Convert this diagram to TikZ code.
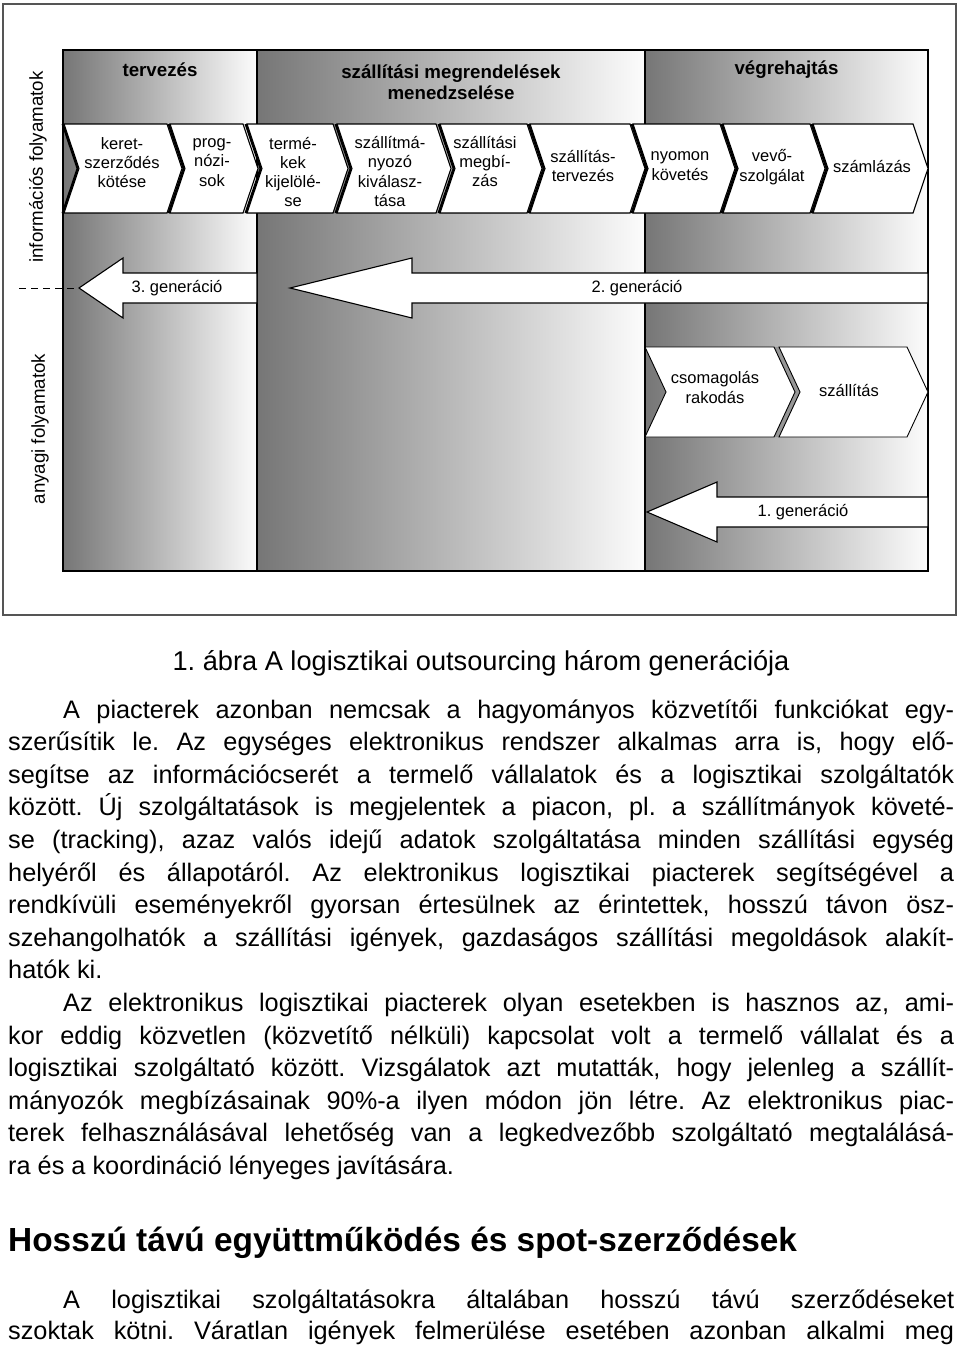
\documentclass[tikz,border=0pt]{standalone}
\usepackage{fontspec}
\setmainfont{Liberation Sans}
\usepackage{tikz}
\usetikzlibrary{calc}
\definecolor{deepgray}{RGB}{118,118,118}
\definecolor{paleend}{RGB}{252,252,252}
\definecolor{framegray}{RGB}{85,85,85}
\definecolor{gapgray}{RGB}{150,150,150}
\newcommand{\justline}[1]{\hbox to 946pt{#1}}
\frenchspacing

\begin{document}
\begin{tikzpicture}[x=1pt, y=-1pt,
  colbox/.style={draw=black, line width=1.2pt, left color=deepgray, right color=paleend},
  chev/.style={draw=black, line width=1.1pt, fill=white, line join=miter},
  chevshadow/.style={fill=black},
  genarrow/.style={draw=black, line width=1.1pt, fill=white, line join=miter},
  steplabel/.style={font=\fontsize{16.5}{19.3}\selectfont, align=center, inner sep=0pt},
  headlabel/.style={font=\fontsize{18.7}{21}\selectfont\bfseries, align=center, inner sep=0pt},
  genlabel/.style={font=\fontsize{16.5}{19}\selectfont, inner sep=0pt},
  sidelabel/.style={font=\fontsize{18.7}{21}\selectfont, rotate=90, inner sep=0pt},
  bodyline/.style={anchor=base west, inner sep=0pt, font=\fontsize{25.3}{32.6}\selectfont},
]
  \fill[white] (0,0) rectangle (960,1347);
  \useasboundingbox (0,0) rectangle (960,1347);

  \draw[framegray, line width=1.2pt] (3,4) rectangle (956,615);

  \path[colbox] (63,50) rectangle (257,571);
  \path[colbox] (257,50) rectangle (645,571);
  \path[colbox] (645,50) rectangle (928,571);

  \node[headlabel] (headplan) at (160,70) {tervezés};
  \node[headlabel] (headorder) at (451,82.5) {szállítási megrendelések\\menedzselése};
  \node[headlabel] (headexec) at (786.5,70) {végrehajtás};

  \foreach \l/\r in {64/167, 170/243, 247/333, 337/436, 440/527, 530/630, 633/720, 723/810, 813/913} {
    \fill[chevshadow] (\l-2.5,124) -- (\r-2.5,124) -- (\r+12.5,168.5) -- (\r-2.5,213) -- (\l-2.5,213) -- (\l+12.5,168.5) -- cycle;
    \draw[chev] (\l,124) -- (\r,124) -- (\r+15,168.5) -- (\r,213) -- (\l,213) -- (\l+15,168.5) -- cycle;
  }

  \node[steplabel] (keret) at (122,162.5) {keret-\\szerződés\\kötése};
  \node[steplabel] (prognozis) at (212,162.5) {prog-\\nózi-\\sok};
  \node[steplabel] (termekek) at (293,172) {termé-\\kek\\kijelölé-\\se};
  \node[steplabel] (fuvarozo) at (390,171.5) {szállítmá-\\nyozó\\kiválasz-\\tása};
  \node[steplabel] (megbizas) at (485,161.5) {szállítási\\megbí-\\zás};
  \node[steplabel] (tervezes) at (583,166) {szállítás-\\tervezés};
  \node[steplabel] (nyomon) at (680,166) {nyomon\\követés};
  \node[steplabel] (vevo) at (772,167) {vevő-\\szolgálat};
  \node[steplabel] (szamlazas) at (872,167) {számlázás};

  \fill[gapgray] (774,347) -- (779,347) -- (800,392) -- (779,437) -- (774,437) -- (795,392) -- cycle;
  \draw[chev, line width=0.9pt] (645,347) -- (774,347) -- (795,392) -- (774,437) -- (645,437) -- (666,392) -- cycle;
  \draw[chev, line width=0.9pt] (779,347) -- (907,347) -- (928,392) -- (907,437) -- (779,437) -- (800,392) -- cycle;
  \node[steplabel] (csomagolas) at (715,387.5) {csomagolás\\rakodás};
  \node[steplabel] (szallitas) at (849,390) {szállítás};

  \draw[genarrow] (257,273) -- (123,273) -- (123,258) -- (79,288) coordinate (gen3tip) -- (123,318) -- (123,303) -- (257,303) -- cycle;
  \draw[genarrow] (928,273) -- (412,273) -- (412,258) -- (290,288) -- (412,318) -- (412,303) -- (928,303) -- cycle;
  \draw[genarrow] (928,497) -- (717,497) -- (717,482) -- (647,512) -- (717,542) -- (717,527) -- (928,527) -- cycle;
  \node[genlabel] (gen3) at (177,288) {3. generáció};
  \node[genlabel] (gen2) at (637,288) {2. generáció};
  \node[genlabel] (gen1) at (803,512) {1. generáció};

  \coordinate (dashstart) at (19,288);
  \draw[line width=1pt, dash pattern=on 7pt off 5pt] (dashstart) -- (gen3tip);

  \node[sidelabel] (sideinfo) at (38,167) {információs folyamatok};
  \node[sidelabel] (sidematerial) at (40,429) {anyagi folyamatok};

  \node[font=\fontsize{27.2}{31}\selectfont, inner sep=0pt] (caption) at (481,663) {1. ábra A logisztikai outsourcing három generációja};

  \node[bodyline] (pa1) at (8,718) {\justline{\hskip55pt A piacterek azonban nemcsak a hagyományos közvetítői funkciókat egy-}};
  \node[bodyline] (pa2) at (8,750.6) {\justline{szerűsítik le. Az egységes elektronikus rendszer alkalmas arra is, hogy elő-}};
  \node[bodyline] (pa3) at (8,783.2) {\justline{segítse az információcserét a termelő vállalatok és a logisztikai szolgáltatók}};
  \node[bodyline] (pa4) at (8,815.8) {\justline{között. Új szolgáltatások is megjelentek a piacon, pl. a szállítmányok követé-}};
  \node[bodyline] (pa5) at (8,848.4) {\justline{se (tracking), azaz valós idejű adatok szolgáltatása minden szállítási egység}};
  \node[bodyline] (pa6) at (8,881) {\justline{helyéről és állapotáról. Az elektronikus logisztikai piacterek segítségével a}};
  \node[bodyline] (pa7) at (8,913.6) {\justline{rendkívüli eseményekről gyorsan értesülnek az érintettek, hosszú távon ösz-}};
  \node[bodyline] (pa8) at (8,946.2) {\justline{szehangolhatók a szállítási igények, gazdaságos szállítási megoldások alakít-}};
  \node[bodyline] (pa9) at (8,978.8) {hatók ki.};

  \node[bodyline] (pb1) at (8,1011.4) {\justline{\hskip55pt Az elektronikus logisztikai piacterek olyan esetekben is hasznos az, ami-}};
  \node[bodyline] (pb2) at (8,1044) {\justline{kor eddig közvetlen (közvetítő nélküli) kapcsolat volt a termelő vállalat és a}};
  \node[bodyline] (pb3) at (8,1076.6) {\justline{logisztikai szolgáltató között. Vizsgálatok azt mutatták, hogy jelenleg a szállít-}};
  \node[bodyline] (pb4) at (8,1109.2) {\justline{mányozók megbízásainak 90\%-a ilyen módon jön létre. Az elektronikus piac-}};
  \node[bodyline] (pb5) at (8,1141.8) {\justline{terek felhasználásával lehetőség van a legkedvezőbb szolgáltató megtalálásá-}};
  \node[bodyline] (pb6) at (8,1174.4) {ra és a koordináció lényeges javítására.};

  \node[anchor=base west, inner sep=0pt, font=\fontsize{33.4}{38}\selectfont\bfseries] (heading) at (8,1251) {Hosszú távú együttműködés és spot-szerződések};

  \node[bodyline] (pc1) at (8,1308) {\justline{\hskip55pt A logisztikai szolgáltatásokra általában hosszú távú szerződéseket}};
  \node[bodyline] (pc2) at (8,1339) {\justline{szoktak kötni. Váratlan igények felmerülése esetében azonban alkalmi meg}};
\end{tikzpicture}
\end{document}
